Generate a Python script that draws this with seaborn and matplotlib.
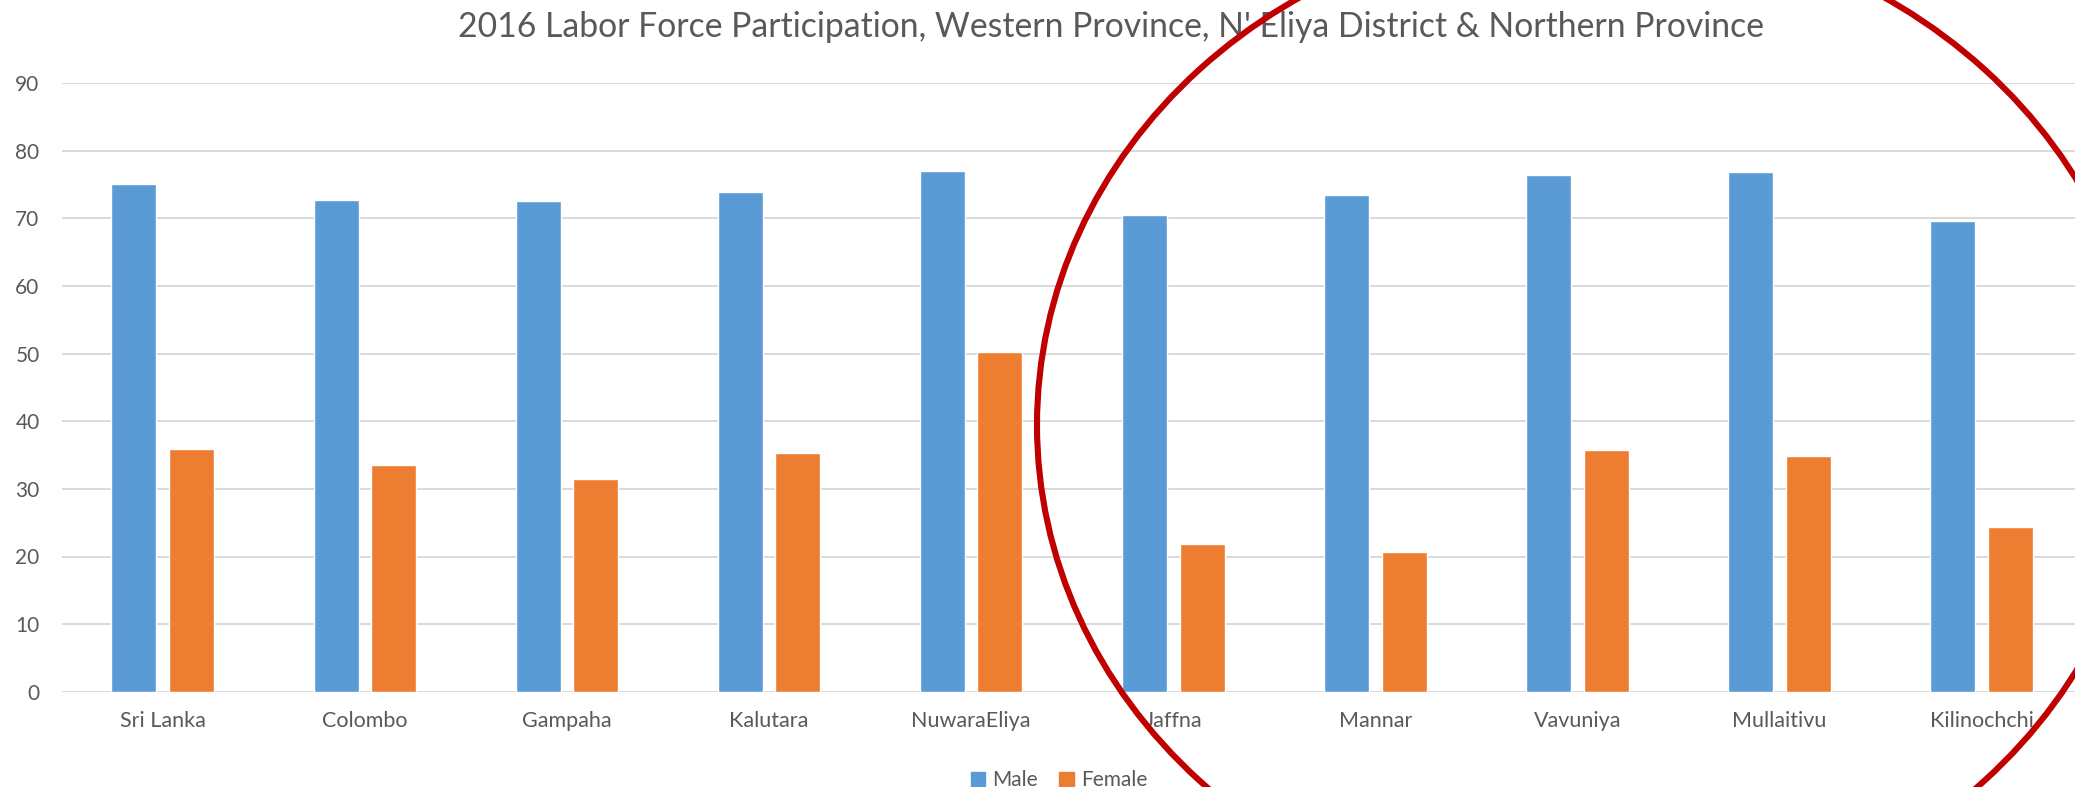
import pandas as pd
import matplotlib
matplotlib.use("Agg")
import matplotlib.pyplot as plt
from matplotlib.patches import Ellipse
import seaborn as sns

# data
districts = ["Sri Lanka", "Colombo", "Gampaha", "Kalutara", "NuwaraEliya",
             "Jaffna", "Mannar", "Vavuniya", "Mullaitivu", "Kilinochchi"]
male = [75.1, 72.8, 72.6, 73.9, 77.0, 70.5, 73.5, 76.5, 76.9, 69.6]
female = [35.9, 33.6, 31.5, 35.3, 50.3, 21.8, 20.6, 35.8, 34.8, 24.3]
y_ticks = [0, 10, 20, 30, 40, 50, 60, 70, 80, 90]

df = pd.DataFrame({
    "District": districts * 2,
    "Rate": male + female,
    "Sex": ["Male"] * len(districts) + ["Female"] * len(districts),
})

sns.set_theme(style="white")
plt.rcParams["font.family"] = ["Lato", "DejaVu Sans"]
text_col = "#595959"
grid_col = "#D9D9D9"

W, H, DPI = 2075, 787, 100
fig = plt.figure(figsize=(W / DPI, H / DPI), dpi=DPI)
# plot area runs slightly past the right edge (reference is cropped)
ax = fig.add_axes([61.8 / W, 1 - 691.7 / H, (2082.5 - 61.8) / W, (691.7 - 83.3) / H])

sns.barplot(data=df, x="District", y="Rate", hue="Sex", order=districts,
            palette={"Male": "#5B9BD5", "Female": "#ED7D31"},
            width=0.571, gap=0.22, saturation=1, legend=False, ax=ax, zorder=3)

ax.set_ylim(0, 90)
ax.set_xlim(-0.5, len(districts) - 0.5)
ax.set_yticks(y_ticks)
ax.yaxis.grid(True, color=grid_col, linewidth=1.4, zorder=0)
ax.set_axisbelow(True)
for s in ax.spines.values():
    s.set_visible(False)
ax.set_xlabel("")
ax.set_ylabel("")
ax.tick_params(axis="y", length=0, pad=16, labelsize=15, labelcolor=text_col)
ax.tick_params(axis="x", length=0, pad=14, labelsize=15.5, labelcolor=text_col)

fig.text(1110.5 / W, 1 - 37 / H,
         "2016 Labor Force Participation, Western Province, N' Eliya District & Northern Province",
         ha="center", va="baseline", fontsize=24.3, color=text_col)

# legend
handles = [plt.Rectangle((0, 0), 1, 1, color="#5B9BD5"),
           plt.Rectangle((0, 0), 1, 1, color="#ED7D31")]
fig.legend(handles, ["Male", "Female"], loc="upper center",
           bbox_to_anchor=(1059 / W, 1 - 760 / H), ncol=2, frameon=False,
           fontsize=15, labelcolor=text_col, handlelength=0.7, handleheight=0.7,
           handletextpad=0.35, columnspacing=1.0, borderpad=0)

# red annotation ellipse
fig.add_artist(Ellipse((1592 / W, 1 - 425 / H), 1110 / W, 1006 / H,
                       fill=False, edgecolor="#C00000", linewidth=4.4,
                       transform=fig.transFigure, zorder=10))

fig.savefig("out.png", dpi=DPI)
